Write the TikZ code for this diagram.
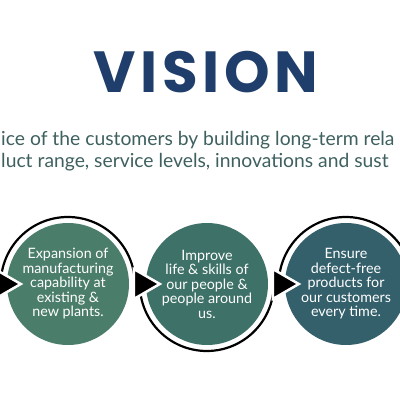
\documentclass[tikz,border=0pt]{standalone}
\usepackage{fontspec}
\setmainfont{Lato}
\newfontfamily\titlefont{Poppins}[LetterSpace=8]
\usepackage{tikz}
\definecolor{visionblue}{RGB}{31,62,107}
\definecolor{slogangray}{RGB}{62,96,95}
\definecolor{goalone}{RGB}{75,125,107}
\definecolor{goaltwo}{RGB}{62,113,103}
\definecolor{goalthree}{RGB}{52,96,108}

\begin{document}
\begin{tikzpicture}[x=1pt,y=1pt]
\useasboundingbox (0,0) rectangle (400,400);
%\tikzstyle{goal}=[circle,fill=green,minimum size=120pt]
\tikzset{
    goal/.style={circle,minimum size=122pt,inner sep=0pt,text=white,align=center,font=\fontsize{14.3}{14.5}\selectfont},
    ring/.style={line width=2.2pt},
    pointer/.style={fill=black,draw=white,line width=2.5pt}
}
    \node[anchor=base,text=visionblue,font=\titlefont\bfseries\fontsize{58}{60}\selectfont] (title) at (206,307) {VISION};
    \node[anchor=base west,inner sep=0pt,text=slogangray,font=\fontsize{19.3}{22}\selectfont] (line1) at (1,254) {ice of the customers by building long-term rela};
    \node[anchor=base west,inner sep=0pt,text=slogangray,font=\fontsize{19.3}{22}\selectfont] (line2) at (1,232) {luct range, service levels, innovations and sust};

\begin{scope}
    \node[goal,fill=goalone] (g1) at (68,116) {Expansion of\\manufacturing\\capability at\\existing \&\\new plants.};
    \node[goal,fill=goaltwo] (g2) at (207,116) {Improve\\life \& skills of\\our people \&\\people around\\us.};
    \node[goal,fill=goalthree] (g3) at (346,116) {Ensure\\defect-free\\products for\\our customers\\every time.};

    \draw[ring] ([xshift=-6pt]g1.west) arc[start angle=180,end angle=0,radius=67pt];
    \draw[ring] ([xshift=-6pt]g2.west) arc[start angle=180,end angle=360,radius=67pt];
    \draw[ring] ([xshift=-6pt]g3.west) arc[start angle=180,end angle=0,radius=67pt];

    \filldraw[pointer] ([xshift=14pt]g1.west) -- ++(-26,15) -- ++(0,-30) -- cycle;
    \filldraw[pointer] ([xshift=14pt]g2.west) -- ++(-26,15) -- ++(0,-30) -- cycle;
    \filldraw[pointer] ([xshift=14pt]g3.west) -- ++(-26,15) -- ++(0,-30) -- cycle;
\end{scope}
\end{tikzpicture}
\end{document}
